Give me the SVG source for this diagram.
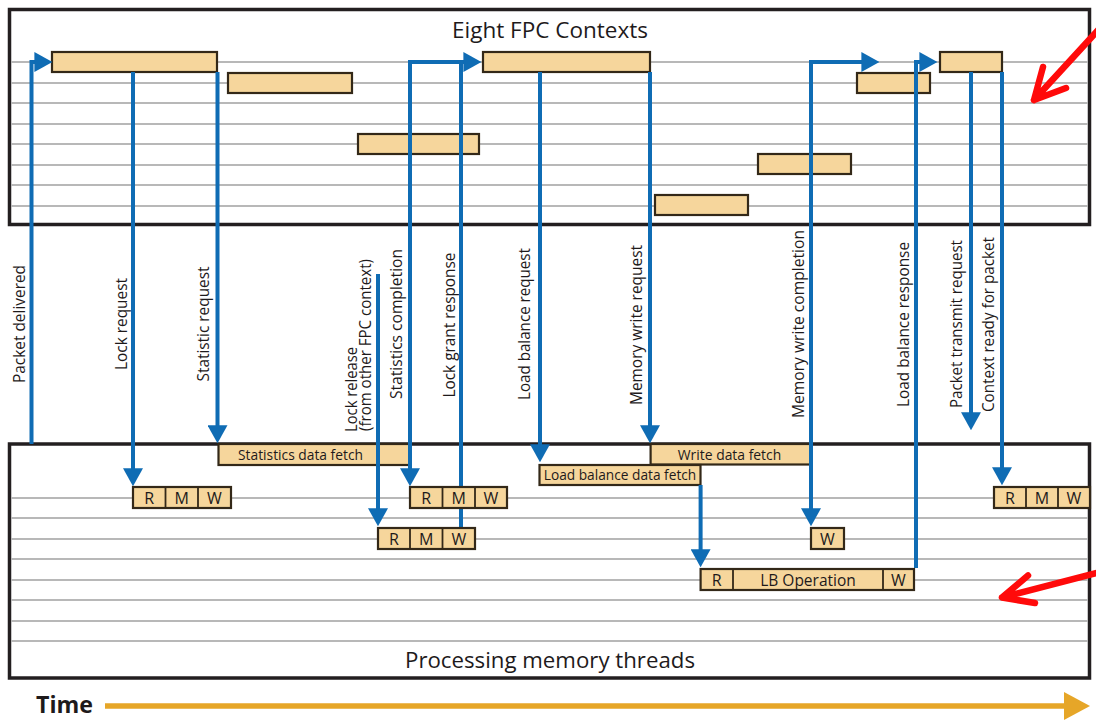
<svg xmlns="http://www.w3.org/2000/svg" width="1096" height="721" viewBox="0 0 1096 721">
  <defs>
    <marker id="ah" markerUnits="userSpaceOnUse" markerWidth="18" markerHeight="20" viewBox="0 0 17 19" refX="12" refY="9.5" orient="auto">
      <path d="M0,0 L17,9.5 L0,19 Z" fill="#0f6cb4"/>
    </marker>
    <style>
      .frame { fill: #ffffff; stroke: #231f20; stroke-width: 3.5; }
      .lane { stroke: #b8b8b8; stroke-width: 2; }
      .bar { fill: #f6d69c; stroke: #332818; stroke-width: 2.2; }
      .cell { stroke: #332818; stroke-width: 1.8; }
      .wire { fill: none; stroke: #0f6cb4; stroke-width: 4; stroke-linejoin: miter; }
      .arr { marker-end: url(#ah); }
      .t { font-family: "Open Sans", "Liberation Sans", sans-serif; fill: #1e1a1b; }
      .lbl { font-size: 16px; text-anchor: middle; }
      .lbs { font-size: 16px; text-anchor: start; }
      .box { font-size: 14.5px; text-anchor: middle; }
      .rmw { font-size: 16px; text-anchor: middle; }
      .title { font-size: 22px; text-anchor: middle; }
      .note { fill: none; stroke: #ff0a0a; stroke-width: 6.5; stroke-linecap: round; stroke-linejoin: round; }
    </style>
  </defs>

  <rect width="1096" height="721" fill="#ffffff"/>

  <!-- Upper panel: eight FPC contexts -->
  <g id="fpc-contexts">
    <rect class="frame" x="9.5" y="9.5" width="1080" height="215"/>
    <g class="lane">
      <line x1="11" y1="62" x2="1088" y2="62"/>
      <line x1="11" y1="83" x2="1088" y2="83"/>
      <line x1="11" y1="103" x2="1088" y2="103"/>
      <line x1="11" y1="124" x2="1088" y2="124"/>
      <line x1="11" y1="144" x2="1088" y2="144"/>
      <line x1="11" y1="165" x2="1088" y2="165"/>
      <line x1="11" y1="185" x2="1088" y2="185"/>
      <line x1="11" y1="206" x2="1088" y2="206"/>
    </g>
    <text class="t title" x="550" y="38" textLength="196" lengthAdjust="spacingAndGlyphs">Eight FPC Contexts</text>
  </g>

  <!-- Lower panel: processing memory threads -->
  <g id="memory-threads">
    <rect class="frame" x="9.5" y="444" width="1080" height="234"/>
    <g class="lane">
      <line x1="11" y1="498" x2="1088" y2="498"/>
      <line x1="11" y1="518" x2="1088" y2="518"/>
      <line x1="11" y1="539" x2="1088" y2="539"/>
      <line x1="11" y1="559" x2="1088" y2="559"/>
      <line x1="11" y1="580" x2="1088" y2="580"/>
      <line x1="11" y1="600" x2="1088" y2="600"/>
      <line x1="11" y1="621" x2="1088" y2="621"/>
      <line x1="11" y1="641" x2="1088" y2="641"/>
    </g>
    <text class="t title" x="550" y="668" font-size="23" textLength="290" lengthAdjust="spacingAndGlyphs">Processing memory threads</text>
  </g>

  <!-- Context activity bars -->
  <g id="ctx-1"><rect class="bar" x="52" y="52" width="165" height="20"/></g>
  <g id="ctx-2"><rect class="bar" x="228" y="73" width="124" height="20"/></g>
  <g id="ctx-3"><rect class="bar" x="358" y="134" width="121" height="20"/></g>
  <g id="ctx-4"><rect class="bar" x="483" y="52" width="167" height="20"/></g>
  <g id="ctx-5"><rect class="bar" x="655" y="195" width="93" height="20"/></g>
  <g id="ctx-6"><rect class="bar" x="758" y="154" width="93" height="20"/></g>
  <g id="ctx-7"><rect class="bar" x="857" y="73" width="73" height="20"/></g>
  <g id="ctx-8"><rect class="bar" x="940" y="52" width="62" height="20"/></g>

  <!-- Data fetch blocks (wires pass over these) -->
  <g id="stats-fetch">
    <rect class="bar" x="218.5" y="444" width="191.5" height="21"/>
    <text class="t box" x="300.5" y="459.5" textLength="125" lengthAdjust="spacingAndGlyphs">Statistics data fetch</text>
  </g>
  <g id="write-fetch">
    <rect class="bar" x="650.6" y="444" width="160.4" height="20.5"/>
    <text class="t box" x="729.5" y="459.5" textLength="103.5" lengthAdjust="spacingAndGlyphs">Write data fetch</text>
  </g>
  <g id="lb-fetch">
    <rect class="bar" x="539.5" y="465" width="161" height="20"/>
    <text class="t box" x="620" y="480" textLength="152.5" lengthAdjust="spacingAndGlyphs">Load balance data fetch</text>
  </g>

  <!-- Event wires between contexts and memory threads -->
  <g id="connectors">
    <path class="wire arr" d="M31.5,444 V62 H47"/>
    <path class="wire arr" d="M133,72 V481"/>
    <path class="wire arr" d="M217.5,72 V438"/>
    <path class="wire arr" d="M378,274 V521"/>
    <path class="wire arr" d="M410,60 V481"/>
    <path class="wire arr" d="M408,62 H476"/>
    <path class="wire" d="M461,528 V62"/>
    <path class="wire arr" d="M540,72 V457"/>
    <path class="wire arr" d="M650,72 V438"/>
    <path class="wire arr" d="M700.6,485 V562"/>
    <path class="wire arr" d="M811,60 V521"/>
    <path class="wire arr" d="M809,62 H874"/>
    <path class="wire arr" d="M916,568 V62 H932"/>
    <path class="wire arr" d="M971,72 V425"/>
    <path class="wire arr" d="M1002,72 V480"/>
  </g>

  <!-- Read / modify / write operations -->
  <g id="rmw-lock">
    <rect class="bar" x="133" y="487" width="98" height="21"/>
    <line class="cell" x1="165.5" y1="487" x2="165.5" y2="508"/>
    <line class="cell" x1="198" y1="487" x2="198" y2="508"/>
    <text class="t rmw" x="149.3" y="504">R</text>
    <text class="t rmw" x="181.8" y="504">M</text>
    <text class="t rmw" x="214.5" y="504">W</text>
  </g>
  <g id="rmw-stats">
    <rect class="bar" x="410" y="487" width="97" height="21"/>
    <line class="cell" x1="442.5" y1="487" x2="442.5" y2="508"/>
    <line class="cell" x1="475" y1="487" x2="475" y2="508"/>
    <text class="t rmw" x="426.3" y="504">R</text>
    <text class="t rmw" x="458.8" y="504">M</text>
    <text class="t rmw" x="491" y="504">W</text>
  </g>
  <g id="rmw-release">
    <rect class="bar" x="378" y="528" width="97" height="21"/>
    <line class="cell" x1="410" y1="528" x2="410" y2="549"/>
    <line class="cell" x1="442.5" y1="528" x2="442.5" y2="549"/>
    <text class="t rmw" x="394" y="545">R</text>
    <text class="t rmw" x="426.3" y="545">M</text>
    <text class="t rmw" x="458.8" y="545">W</text>
  </g>
  <g id="mem-write">
    <rect class="bar" x="811" y="528" width="33" height="21"/>
    <text class="t rmw" x="827.5" y="545">W</text>
  </g>
  <g id="lb-operation">
    <rect class="bar" x="700.6" y="569" width="213.4" height="21"/>
    <line class="cell" x1="733" y1="569" x2="733" y2="590"/>
    <line class="cell" x1="883" y1="569" x2="883" y2="590"/>
    <text class="t rmw" x="716.8" y="586">R</text>
    <text class="t rmw" x="808" y="586" font-size="17" textLength="95.6" lengthAdjust="spacingAndGlyphs">LB Operation</text>
    <text class="t rmw" x="898.5" y="586">W</text>
  </g>
  <g id="rmw-packet">
    <rect class="bar" x="994" y="487" width="96" height="21"/>
    <line class="cell" x1="1026" y1="487" x2="1026" y2="508"/>
    <line class="cell" x1="1058" y1="487" x2="1058" y2="508"/>
    <text class="t rmw" x="1010" y="504">R</text>
    <text class="t rmw" x="1042" y="504">M</text>
    <text class="t rmw" x="1074" y="504">W</text>
  </g>

  <!-- Event labels, reading bottom to top -->
  <g id="labels">
    <text class="t lbl" transform="translate(24.5,324) rotate(-90)" textLength="118" lengthAdjust="spacingAndGlyphs">Packet delivered</text>
    <text class="t lbl" transform="translate(127,324) rotate(-90)" textLength="92" lengthAdjust="spacingAndGlyphs">Lock request</text>
    <text class="t lbl" transform="translate(208.5,324) rotate(-90)" textLength="115" lengthAdjust="spacingAndGlyphs">Statistic request</text>
    <text class="t lbs" transform="translate(357,432) rotate(-90)" textLength="85" lengthAdjust="spacingAndGlyphs">Lock release</text>
    <text class="t lbs" transform="translate(370.5,431) rotate(-90)" textLength="172" lengthAdjust="spacingAndGlyphs">(from other FPC context)</text>
    <text class="t lbl" transform="translate(401.5,324) rotate(-90)" textLength="150" lengthAdjust="spacingAndGlyphs">Statistics completion</text>
    <text class="t lbl" transform="translate(454.5,325) rotate(-90)" textLength="145" lengthAdjust="spacingAndGlyphs">Lock grant response</text>
    <text class="t lbl" transform="translate(529.5,324) rotate(-90)" textLength="152" lengthAdjust="spacingAndGlyphs">Load balance request</text>
    <text class="t lbl" transform="translate(642,325) rotate(-90)" textLength="160" lengthAdjust="spacingAndGlyphs">Memory write request</text>
    <text class="t lbl" transform="translate(804,324) rotate(-90)" textLength="188" lengthAdjust="spacingAndGlyphs">Memory write completion</text>
    <text class="t lbl" transform="translate(908.5,324.5) rotate(-90)" textLength="165" lengthAdjust="spacingAndGlyphs">Load balance response</text>
    <text class="t lbl" transform="translate(962,324) rotate(-90)" textLength="168" lengthAdjust="spacingAndGlyphs">Packet transmit request</text>
    <text class="t lbl" transform="translate(993.5,324.5) rotate(-90)" textLength="175" lengthAdjust="spacingAndGlyphs">Context ready for packet</text>
  </g>

  <!-- Time axis -->
  <g id="time-axis">
    <text class="t" x="36" y="713" font-size="23" font-weight="bold" textLength="57" lengthAdjust="spacingAndGlyphs">Time</text>
    <line x1="105" y1="706" x2="1067" y2="706" stroke="#e6a628" stroke-width="5.5"/>
    <polygon points="1064,692 1090,706 1064,720" fill="#e6a628"/>
  </g>

  <!-- Red pointer marks -->
  <g id="pointers">
    <path class="note" d="M1100,28 L1034,100 M1043,67 L1034,100 L1066,88"/>
    <path class="note" d="M1100,572 L1002,597.5 M1028,575.5 L1002,597.5 L1035,603"/>
  </g>
</svg>
